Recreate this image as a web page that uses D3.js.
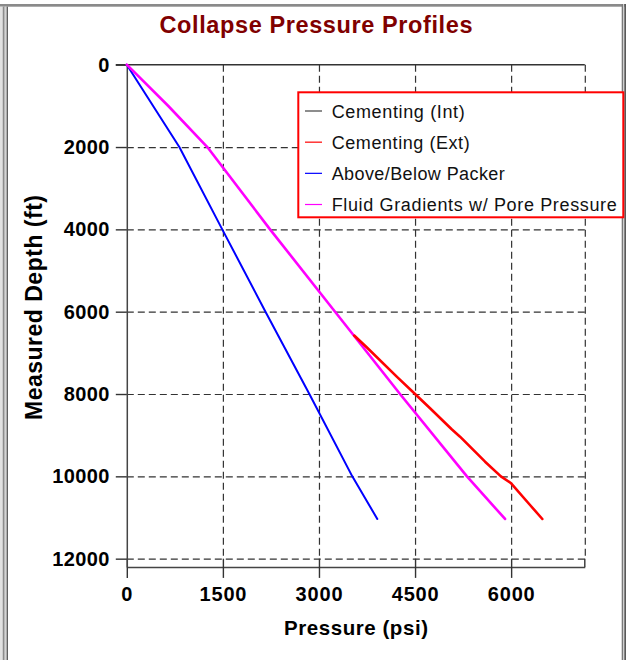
<!DOCTYPE html>
<html>
<head>
<meta charset="utf-8">
<script src="https://cdn.jsdelivr.net/npm/d3@7"></script>
<style>
  html, body { margin: 0; padding: 0; background: #ffffff; }
  svg { display: block; }
  text { font-family: "Liberation Sans", Arial, sans-serif; }
</style>
</head>
<body>
<svg id="chart" width="629" height="660"></svg>
<script>
// Collapse pressure profiles: pressure (psi) against measured depth (ft)
const xTicks = [0, 1500, 3000, 4500, 6000];
const yTicks = [0, 2000, 4000, 6000, 8000, 10000, 12000];

// Above/Below Packer
const packerDepth = [0, 2000, 4000, 6000, 8000, 10000, 11036];
const packerPsi   = [0, 820, 1490, 2165, 2850, 3520, 3911];

// Fluid Gradients w/ Pore Pressure
const fluidDepth = [0, 1003, 2000, 4000, 6000, 8000, 10000, 11036];
const fluidPsi   = [0, 648, 1257, 2236, 3251, 4265, 5310, 5905];

// Cementing (Ext)
const cemExtDepth = [6580, 6865, 7579, 8000, 8347, 8857, 9036, 9644, 10000, 10169, 10696, 11036];
const cemExtPsi   = [3550, 3745, 4214, 4500, 4734, 5072, 5202, 5593, 5840, 6000, 6295, 6487];

const legendNames  = ["Cementing  (Int)", "Cementing  (Ext)", "Above/Below Packer", "Fluid Gradients w/ Pore Pressure"];
const legendColors = ["#404040", "#ff0000", "#0000ff", "#ff00ff"];
const legendWidths = [133, 138, 173, 285];

const svg = d3.select("#chart");

// window frame
svg.append("rect").attr("x", 0).attr("y", 4).attr("width", 626).attr("height", 2.7).attr("fill", "#8a8a8a");
svg.append("rect").attr("x", 0).attr("y", 6.7).attr("width", 2.7).attr("height", 654).attr("fill", "#e2e2e2");
svg.append("rect").attr("x", 2.7).attr("y", 6.7).attr("width", 2).attr("height", 654).attr("fill", "#8c8c8c");
svg.append("rect").attr("x", 4.7).attr("y", 6.7).attr("width", 2).attr("height", 654).attr("fill", "#d4d4d4");
svg.append("rect").attr("x", 6.7).attr("y", 6.7).attr("width", 1.1).attr("height", 654).attr("fill", "#3a3a3a");
svg.append("rect").attr("x", 621.7).attr("y", 4).attr("width", 1.3).attr("height", 656).attr("fill", "#7a7a7a");
svg.append("rect").attr("x", 623).attr("y", 4).attr("width", 1.3).attr("height", 656).attr("fill", "#d0d0d0");
svg.append("rect").attr("x", 624.3).attr("y", 4).attr("width", 1.7).attr("height", 656).attr("fill", "#5a5a5a");

const x = d3.scaleLinear().domain([0, 7150]).range([126.8, 584.8]);
const y = d3.scaleLinear().domain([0, 12200]).range([64.7, 566.9]);

const gridColor = "#333333";

// dashed grid
const gridX = svg.append("g").attr("transform", `translate(0,${y(0)})`)
  .call(d3.axisBottom(x).tickValues([1500, 3000, 4500, 6000, 7150]).tickSize(y(12000) - y(0)).tickFormat(""));
gridX.select(".domain").remove();
gridX.selectAll("line").attr("stroke", gridColor).attr("stroke-width", 1.2).attr("stroke-dasharray", "7,4");

const gridY = svg.append("g").attr("transform", `translate(${x(0)},0)`)
  .call(d3.axisRight(y).tickValues(yTicks.filter(v => v > 0)).tickSize(x(7150) - x(0)).tickFormat(""));
gridY.select(".domain").remove();
gridY.selectAll("line").attr("stroke", gridColor).attr("stroke-width", 1.2).attr("stroke-dasharray", "7,4");

// solid top line and right closing segment
svg.append("line").attr("x1", x(0) - 11).attr("x2", x(7150)).attr("y1", y(0)).attr("y2", y(0))
  .attr("stroke", "#333").attr("stroke-width", 1.4);
svg.append("line").attr("x1", x(7150)).attr("x2", x(7150)).attr("y1", y(12000)).attr("y2", y(12200))
  .attr("stroke", "#333").attr("stroke-width", 1.4);

// bottom axis
const xAxis = svg.append("g").attr("transform", `translate(0,${y(12200)})`)
  .call(d3.axisBottom(x).tickValues(xTicks).tickSizeInner(11).tickSizeOuter(0).tickPadding(9).tickFormat(d3.format("d")));
xAxis.select(".domain").attr("stroke", "#444").attr("stroke-width", 1.5);
xAxis.selectAll(".tick line").attr("stroke", "#333").attr("stroke-width", 1.4).attr("y1", y(12000) - y(12200));
xAxis.selectAll(".tick text").attr("fill", "#000").attr("font-size", 20).attr("font-weight", "bold")
  .attr("letter-spacing", 0.8)
  .attr("font-family", "'Liberation Sans', Arial, sans-serif");

// left axis
const yAxis = svg.append("g").attr("transform", `translate(${x(0)},0)`)
  .call(d3.axisLeft(y).tickValues(yTicks).tickSizeInner(11).tickSizeOuter(0).tickPadding(6).tickFormat(d3.format("d")));
yAxis.select(".domain").attr("stroke", "#444").attr("stroke-width", 1.5);
yAxis.selectAll(".tick line").attr("stroke", "#333").attr("stroke-width", 1.4);
yAxis.selectAll(".tick text").attr("fill", "#000").attr("font-size", 20).attr("font-weight", "bold")
  .attr("letter-spacing", 0.4)
  .attr("font-family", "'Liberation Sans', Arial, sans-serif");

// series
const line = d3.line().x(d => x(d[0])).y(d => y(d[1]));
function drawSeries(psi, depth, color, width) {
  svg.append("path")
    .datum(psi.map((p, i) => [p, depth[i]]))
    .attr("d", line)
    .attr("fill", "none")
    .attr("stroke", color)
    .attr("stroke-width", width)
    .attr("stroke-linejoin", "round")
    .attr("stroke-linecap", "round");
}
drawSeries(packerPsi, packerDepth, "#0000ff", 2);
drawSeries(fluidPsi, fluidDepth, "#ff00ff", 2.6);
drawSeries(cemExtPsi, cemExtDepth, "#ff0000", 2.6);

// title
svg.append("text").attr("x", 316).attr("y", 33).attr("text-anchor", "middle")
  .attr("font-size", 23.5).attr("font-weight", "bold").attr("fill", "#800000")
  .attr("textLength", 313).attr("lengthAdjust", "spacing")
  .text("Collapse Pressure Profiles");

// axis titles
svg.append("text").attr("x", 356).attr("y", 635).attr("text-anchor", "middle")
  .attr("font-size", 20.5).attr("font-weight", "bold").attr("fill", "#000")
  .attr("textLength", 144).attr("lengthAdjust", "spacing")
  .text("Pressure (psi)");
svg.append("text").attr("transform", "translate(42,307.5) rotate(-90)").attr("text-anchor", "middle")
  .attr("font-size", 23).attr("font-weight", "bold").attr("fill", "#000")
  .attr("textLength", 225).attr("lengthAdjust", "spacing")
  .text("Measured Depth (ft)");

// legend
const legend = svg.append("g");
legend.append("rect").attr("x", 298.3).attr("y", 92.3).attr("width", 325).attr("height", 125)
  .attr("fill", "#ffffff").attr("stroke", "#ff0000").attr("stroke-width", 2);
const rowY = d3.scalePoint().domain(legendNames).range([111, 204.5]);
legendNames.forEach((name, i) => {
  const cy = rowY(name);
  legend.append("line").attr("x1", 305).attr("x2", 322).attr("y1", cy).attr("y2", cy)
    .attr("stroke", legendColors[i]).attr("stroke-width", 1.2);
  legend.append("text").attr("x", 331.7).attr("y", cy + 6.5)
    .attr("font-size", 18).attr("fill", "#111")
    .attr("textLength", legendWidths[i]).attr("lengthAdjust", "spacing")
    .text(name);
});
</script>
</body>
</html>
